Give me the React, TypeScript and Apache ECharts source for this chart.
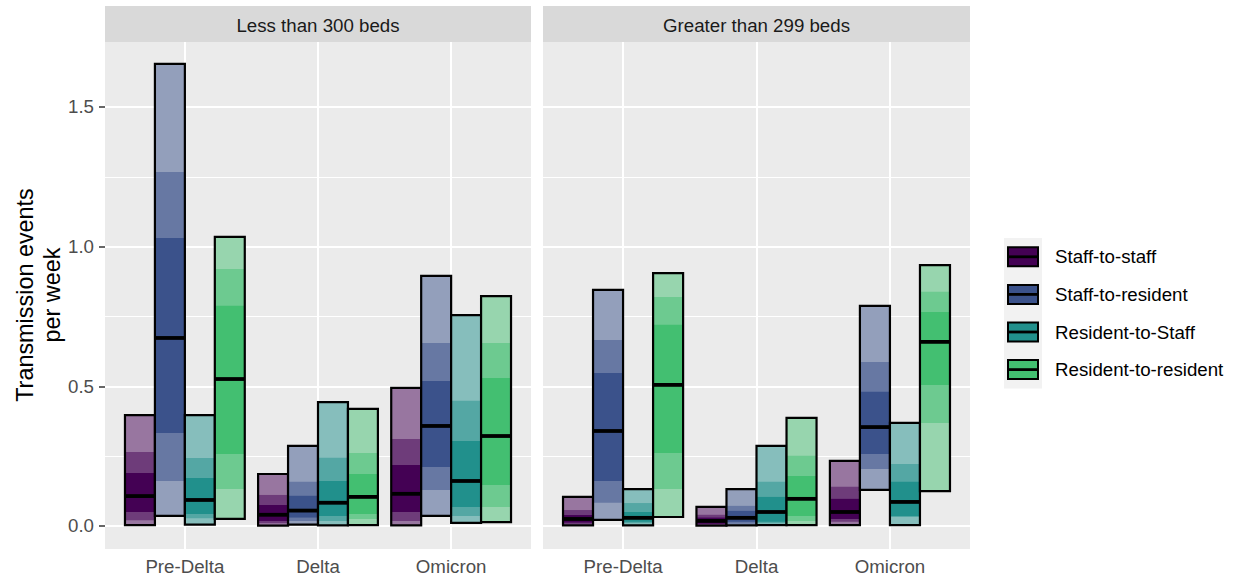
import React, { useEffect, useRef } from "react";
import * as echarts from "echarts";

const periods = ["Pre-Delta", "Delta", "Omicron"];
const routes = ["Staff-to-staff", "Staff-to-resident", "Resident-to-Staff", "Resident-to-resident"];
const facets = ["Less than 300 beds", "Greater than 299 beds"];
const yTicks = [0, 0.5, 1, 1.5];
const yMinor = [0.25, 0.75, 1.25];

// each row: [lo95, lo80, lo50, median, hi50, hi80, hi95] for Pre-Delta, Delta, Omicron
const small_staffToStaff = [
  [0.003, 0.02, 0.05, 0.107, 0.19, 0.265, 0.397],
  [0.001, 0.01, 0.018, 0.04, 0.075, 0.111, 0.186],
  [0.002, 0.018, 0.05, 0.115, 0.218, 0.311, 0.494],
];
const small_staffToResident = [
  [0.036, 0.161, 0.333, 0.673, 1.031, 1.267, 1.654],
  [0.005, 0.018, 0.03, 0.055, 0.108, 0.158, 0.287],
  [0.036, 0.129, 0.211, 0.358, 0.519, 0.655, 0.895],
];
const small_residentToStaff = [
  [0.005, 0.028, 0.043, 0.093, 0.172, 0.243, 0.397],
  [0.002, 0.018, 0.036, 0.083, 0.161, 0.244, 0.443],
  [0.011, 0.036, 0.068, 0.161, 0.304, 0.448, 0.755],
];
const small_residentToResident = [
  [0.025, 0.132, 0.258, 0.526, 0.788, 0.92, 1.035],
  [0.003, 0.025, 0.043, 0.104, 0.186, 0.261, 0.419],
  [0.014, 0.068, 0.147, 0.322, 0.53, 0.655, 0.823],
];
const large_staffToStaff = [
  [0.002, 0.006, 0.012, 0.025, 0.039, 0.057, 0.104],
  [0.001, 0.004, 0.008, 0.018, 0.03, 0.04, 0.068],
  [0.003, 0.015, 0.025, 0.05, 0.097, 0.14, 0.233],
];
const large_staffToResident = [
  [0.022, 0.083, 0.161, 0.34, 0.548, 0.666, 0.845],
  [0.002, 0.008, 0.015, 0.029, 0.054, 0.072, 0.132],
  [0.129, 0.204, 0.258, 0.354, 0.48, 0.587, 0.788],
];
const large_residentToStaff = [
  [0.002, 0.01, 0.015, 0.029, 0.05, 0.082, 0.132],
  [0.003, 0.01, 0.015, 0.05, 0.104, 0.158, 0.287],
  [0.003, 0.032, 0.036, 0.086, 0.158, 0.222, 0.369],
];
const large_residentToResident = [
  [0.032, 0.132, 0.261, 0.505, 0.72, 0.82, 0.905],
  [0.003, 0.018, 0.036, 0.097, 0.179, 0.251, 0.387],
  [0.125, 0.369, 0.505, 0.659, 0.766, 0.838, 0.934],
];

const facetData = [
  [small_staffToStaff, small_staffToResident, small_residentToStaff, small_residentToResident],
  [large_staffToStaff, large_staffToResident, large_residentToStaff, large_residentToResident],
];

const routeColors = ["#440154", "#3B528B", "#21908C", "#43BF71"];
const PANEL_BG = "#EBEBEB";
const FONT = "Liberation Sans, Arial, sans-serif";

function blend(hex: string, a: number): string {
  const r = parseInt(hex.slice(1, 3), 16);
  const g = parseInt(hex.slice(3, 5), 16);
  const b = parseInt(hex.slice(5, 7), 16);
  const m = (c: number) => Math.round(c * a + 235 * (1 - a));
  return `rgb(${m(r)},${m(g)},${m(b)})`;
}

const BARW = 0.225;
const panelLeft = [105, 543];
const panelWidth = [426, 427];
const panelTop = 42;
const panelHeight = 507;

export default function App() {
  const ref = useRef<HTMLDivElement>(null);
  useEffect(() => {
    document.body.style.margin = "0";
    const chart = echarts.init(ref.current!, null, { renderer: "svg" });

    const grids = facets.map((_, i) => ({
      left: panelLeft[i],
      top: panelTop,
      width: panelWidth[i],
      height: panelHeight,
      show: true,
      backgroundColor: PANEL_BG,
      borderWidth: 0,
    }));

    const xAxes = facets.map((_, i) => ({
      type: "value",
      gridIndex: i,
      min: 0.4,
      max: 3.6,
      axisLine: { show: false },
      axisTick: {
        show: true,
        customValues: [1, 2, 3],
        length: 6,
        lineStyle: { color: "#333333", width: 1.5 },
      },
      axisLabel: {
        customValues: [1, 2, 3],
        formatter: (v: number) => periods[Math.round(v) - 1],
        margin: 8,
        fontSize: 18.7,
        color: "#4D4D4D",
        fontFamily: FONT,
      },
      splitLine: { show: false },
    }));

    const yAxes = facets.map((_, i) => ({
      type: "value",
      gridIndex: i,
      min: -0.0825,
      max: 1.7325,
      axisLine: { show: false },
      axisTick: {
        show: i === 0,
        customValues: yTicks,
        length: 6,
        lineStyle: { color: "#333333", width: 1.5 },
      },
      axisLabel: {
        show: i === 0,
        customValues: yTicks,
        formatter: (v: number) => v.toFixed(1),
        margin: 11,
        fontSize: 18.7,
        color: "#4D4D4D",
        fontFamily: FONT,
      },
      splitLine: { show: false },
    }));

    const series = facets.map((_, fi) => {
      const data: number[][] = [];
      facetData[fi].forEach((routeArr, g) => {
        routeArr.forEach((row, p) => {
          data.push([p + 1, g, ...row]);
        });
      });
      return {
        type: "custom",
        xAxisIndex: fi,
        yAxisIndex: fi,
        z: 2,
        clip: false,
        silent: true,
        data,
        renderItem: (params: any, api: any) => {
          const cat = api.value(0);
          const g = api.value(1);
          const v = [2, 3, 4, 5, 6, 7, 8].map((k) => api.value(k));
          const xc = cat + (g - 1.5) * BARW;
          const x0 = api.coord([xc - BARW / 2, 0])[0];
          const x1 = api.coord([xc + BARW / 2, 0])[0];
          const y = (val: number) => api.coord([xc, val])[1];
          const col = routeColors[g];
          const rect = (lo: number, hi: number, fill: string) => ({
            type: "rect",
            shape: { x: x0, y: y(hi), width: x1 - x0, height: y(lo) - y(hi) },
            style: { fill, stroke: "none" },
          });
          const ym = y(v[3]);
          return {
            type: "group",
            children: [
              rect(v[0], v[6], blend(col, 0.5)),
              rect(v[1], v[5], blend(col, 0.75)),
              rect(v[2], v[4], col),
              {
                type: "rect",
                shape: { x: x0, y: ym - 1.9, width: x1 - x0, height: 3.8 },
                style: { fill: "#000000" },
              },
              {
                type: "rect",
                shape: { x: x0, y: y(v[6]), width: x1 - x0, height: y(v[0]) - y(v[6]) },
                style: { fill: "none", stroke: "#000000", lineWidth: 2.2 },
              },
            ],
          };
        },
        markLine: {
          silent: true,
          z: 1,
          symbol: ["none", "none"],
          label: { show: false },
          lineStyle: { color: "#FFFFFF", width: 2, type: "solid" },
          data: [
            ...yTicks.map((t) => ({ yAxis: t })),
            ...yMinor.map((t) => ({ yAxis: t, lineStyle: { color: "#FFFFFF", width: 1, type: "solid" } })),
            ...[1, 2, 3].map((t) => ({ xAxis: t })),
          ],
        },
      };
    });

    const graphics: any[] = [];
    facets.forEach((name, i) => {
      graphics.push({
        type: "rect",
        shape: { x: panelLeft[i], y: 6, width: panelWidth[i], height: 36 },
        style: { fill: "#D9D9D9" },
        silent: true,
      });
      graphics.push({
        type: "text",
        x: panelLeft[i] + panelWidth[i] / 2,
        y: 25,
        style: {
          text: name,
          fill: "#1A1A1A",
          fontSize: 18.7,
          fontFamily: FONT,
          align: "center",
          verticalAlign: "middle",
        },
        silent: true,
      });
    });
    graphics.push({
      type: "text",
      x: 38,
      y: 295,
      rotation: Math.PI / 2,
      style: {
        text: "Transmission events\nper week",
        fill: "#000000",
        fontSize: 23.4,
        lineHeight: 27,
        fontFamily: FONT,
        align: "center",
        verticalAlign: "middle",
      },
      silent: true,
    });
    // legend
    const legTop = 238;
    const legStep = 37.6;
    graphics.push({
      type: "rect",
      shape: { x: 1004, y: legTop, width: 38, height: legStep * 4 },
      style: { fill: "#F2F2F2" },
      silent: true,
    });
    routes.forEach((r, i) => {
      const cy = legTop + legStep * i + legStep / 2;
      graphics.push({
        type: "rect",
        shape: { x: 1008, y: cy - 9.5, width: 30, height: 19 },
        style: { fill: routeColors[i], stroke: "#000000", lineWidth: 2 },
        silent: true,
      });
      graphics.push({
        type: "rect",
        shape: { x: 1008, y: cy - 1.4, width: 30, height: 2.8 },
        style: { fill: "#000000" },
        silent: true,
      });
      graphics.push({
        type: "text",
        x: 1055,
        y: cy,
        style: {
          text: r,
          fill: "#000000",
          fontSize: 18.7,
          fontFamily: FONT,
          align: "left",
          verticalAlign: "middle",
        },
        silent: true,
      });
    });

    chart.setOption({
      animation: false,
      backgroundColor: "#FFFFFF",
      grid: grids,
      xAxis: xAxes,
      yAxis: yAxes,
      series,
      graphic: graphics,
    });
    return () => chart.dispose();
  }, []);
  return <div ref={ref} style={{ width: 1234, height: 579 }} />;
}
